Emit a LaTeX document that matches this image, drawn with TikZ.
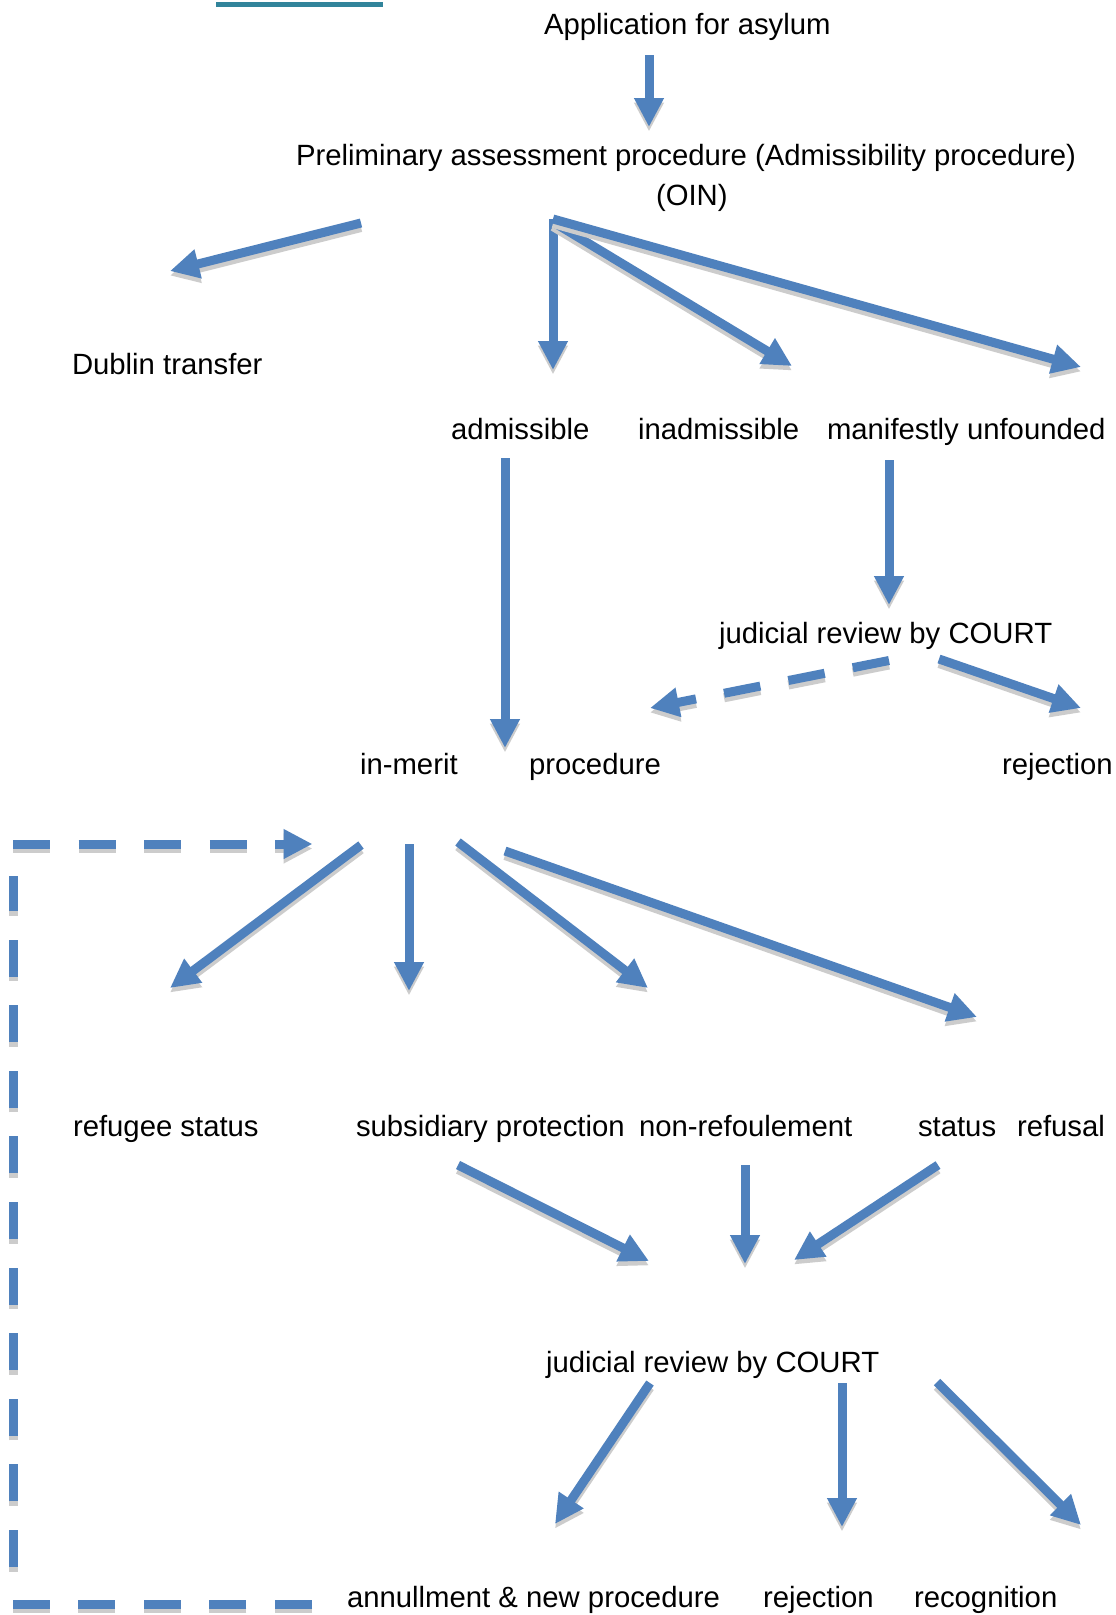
\documentclass[tikz,border=0pt]{standalone}
\usepackage{fontspec}
\setmainfont{Liberation Sans}
\usetikzlibrary{arrows.meta}
\definecolor{arrowblue}{RGB}{79,129,189}
\definecolor{shadowgray}{RGB}{204,204,204}
\definecolor{linkteal}{RGB}{49,132,155}
\tikzset{
  lbl/.style={anchor=base west, inner sep=0pt, outer sep=0pt, font=\fontsize{29.3pt}{35pt}\selectfont},
  flow/.style={line width=9pt, -{Triangle[length=29pt,width=28pt]}},
  dashflow/.style={flow, dash pattern=on 37pt off 28.6pt},
  blueline/.style={draw=arrowblue},
  shadowline/.style={draw=shadowgray, transform canvas={yshift=-4.5pt}},
}
\newcommand\flowarrow[2][flow]{%
  \draw[#1,shadowline] #2;
  \draw[#1,blueline] #2;}
\begin{document}
\begin{tikzpicture}[x=1pt,y=-1pt]
\useasboundingbox[fill=white] (0,0) rectangle (1116,1615);
% cut-off link underline at the top
\fill[linkteal] (216,1.6) rectangle (383,6.6);
% texts
\node[lbl] (app) at (544,34.4) {Application for asylum};
\node[lbl] (prelim) at (296,165) {Preliminary assessment procedure (Admissibility procedure)};
\node[lbl] (oin) at (656,205) {(OIN)};
\node[lbl] (dublin) at (72,374) {Dublin transfer};
\node[lbl] (adm) at (451,439) {admissible};
\node[lbl] (inadm) at (638,439) {inadmissible};
\node[lbl] (mu) at (827,439) {manifestly unfounded};
\node[lbl] (jr1) at (719,643) {judicial review by COURT};
\node[lbl] (inmerit) at (360,774) {in-merit};
\node[lbl] (proc) at (529,774) {procedure};
\node[lbl] (rej1) at (1002,774) {rejection};
\node[lbl] (refugee) at (73,1136) {refugee status};
\node[lbl] (subsid) at (356,1136) {subsidiary protection};
\node[lbl] (nonref) at (639,1136) {non-refoulement};
\node[lbl] (status) at (918,1136) {status};
\node[lbl] (refusal) at (1017,1136) {refusal};
\node[lbl] (jr2) at (546,1372) {judicial review by COURT};
\node[lbl] (annul) at (347,1607) {annullment \& new procedure};
\node[lbl] (rej2) at (763,1607) {rejection};
\node[lbl] (recog) at (914,1607) {recognition};
% connector end points
\coordinate (a1s) at (649,55);   \coordinate (a1e) at (649,127);
\coordinate (p0)  at (553,219);  \coordinate (p1) at (553,222);
\coordinate (d1s) at (361,223);  \coordinate (d1e) at (170,271);
\coordinate (ad1e) at (553,370);
\coordinate (in1e) at (792,366);
\coordinate (mu1e) at (1081,367);
\coordinate (adms) at (505,458); \coordinate (adme) at (505,748);
\coordinate (mus) at (889,460);  \coordinate (mue) at (889,605);
\coordinate (j1a) at (889,660.5); \coordinate (j1ae) at (650,708);
\coordinate (j1b) at (939,659);  \coordinate (j1be) at (1081,708);
\coordinate (m1s) at (361,845);  \coordinate (m1e) at (170,988);
\coordinate (m2s) at (409,844);  \coordinate (m2e) at (409,991);
\coordinate (m3s) at (458,842);  \coordinate (m3e) at (648,988);
\coordinate (m4s) at (505,851);  \coordinate (m4e) at (977,1017);
\coordinate (s1s) at (458,1165); \coordinate (s1e) at (649,1261);
\coordinate (s2s) at (745,1165); \coordinate (s2e) at (745,1264);
\coordinate (s3s) at (938,1165); \coordinate (s3e) at (794,1260);
\coordinate (j2as) at (650,1383); \coordinate (j2ae) at (555,1524);
\coordinate (j2bs) at (842,1383); \coordinate (j2be) at (842,1527);
\coordinate (j2cs) at (937,1382); \coordinate (j2ce) at (1081,1525);
\coordinate (lb1) at (312,1604); \coordinate (lb2) at (13,1604);
\coordinate (lv1) at (13,1567);  \coordinate (lv2) at (13,876);
\coordinate (lt1) at (13,844);   \coordinate (lt2) at (312.5,844);
% connectors
\flowarrow{(a1s) -- (a1e)}
\flowarrow{(d1s) -- (d1e)}
\flowarrow{(p0) -- (ad1e)}
\flowarrow{(p1) -- (in1e)}
\flowarrow{(p0) -- (mu1e)}
\flowarrow{(adms) -- (adme)}
\flowarrow{(mus) -- (mue)}
\flowarrow[dashflow]{(j1a) -- (j1ae)}
\flowarrow{(j1b) -- (j1be)}
\flowarrow{(m1s) -- (m1e)}
\flowarrow{(m2s) -- (m2e)}
\flowarrow{(m3s) -- (m3e)}
\flowarrow{(m4s) -- (m4e)}
\flowarrow{(s1s) -- (s1e)}
\flowarrow{(s2s) -- (s2e)}
\flowarrow{(s3s) -- (s3e)}
\flowarrow{(j2as) -- (j2ae)}
\flowarrow{(j2bs) -- (j2be)}
\flowarrow{(j2cs) -- (j2ce)}
\flowarrow[dashflow]{(lb1) -- (lb2) (lv1) -- (lv2) (lt1) -- (lt2)}
\end{tikzpicture}
\end{document}
